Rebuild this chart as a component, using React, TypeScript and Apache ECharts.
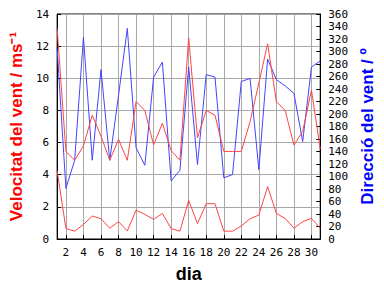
import React, { useEffect, useRef } from "react";
import * as echarts from "echarts";

const days = ["1","2","3","4","5","6","7","8","9","10","11","12","13","14","15","16","17","18","19","20","21","22","23","24","25","26","27","28","29","30","31"];
const maxSpeed = [13.1,5.45,4.9,5.8,7.7,6.4,4.9,6.2,4.9,8.55,8.0,5.85,7.2,5.5,4.9,12.5,6.3,8.0,7.7,5.45,5.45,5.45,7.3,9.7,12.15,8.55,8.0,5.85,6.7,9.27,5.6];
const meanSpeed = [4.24,0.65,0.49,0.9,1.43,1.26,0.67,1.08,0.5,1.79,1.53,1.22,1.59,0.65,0.49,2.4,0.96,2.2,2.2,0.49,0.49,0.81,1.26,1.49,3.26,1.59,1.28,0.67,1.08,1.28,0.67];
const direction = [305,81,126,323,126,271,126,230,337,146,118,259,283,93,110,275,119,263,259,98,103,252,257,111,288,255,245,233,156,275,285];

export default function App() {
  const ref = useRef<HTMLDivElement>(null);
  useEffect(() => {
    if (!ref.current) return;
    const chart = echarts.init(ref.current, null, { renderer: "svg" });
    const tickFont = { fontFamily: "DejaVu Sans Mono", fontSize: 11, color: "#000" };
    const even = (i: number) => (i + 1) % 2 === 0;
    chart.setOption({
      animation: false,
      backgroundColor: "#fff",
      grid: { left: 49, right: 49, top: 14, bottom: 45, show: true, borderColor: "#000", borderWidth: 1, backgroundColor: "transparent" },
      xAxis: {
        type: "category",
        data: days,
        boundaryGap: false,
        name: "dia",
        nameLocation: "middle",
        nameGap: 26,
        nameTextStyle: { fontFamily: "Liberation Sans", fontSize: 18, fontWeight: "bold", color: "#000" },
        axisLine: { lineStyle: { color: "#000", width: 1 } },
        axisTick: { inside: true, length: 4, interval: (i: number) => even(i), lineStyle: { color: "#000" } },
        axisLabel: { ...tickFont, margin: 8, interval: (i: number) => even(i) },
        splitLine: { show: true, interval: (i: number) => even(i) && i !== 30, lineStyle: { color: "#a8a8a8", width: 1 } },
      },
      yAxis: [
        {
          type: "value",
          min: 0,
          max: 14,
          interval: 2,
          name: "Velocitat del vent / ms⁻¹",
          nameLocation: "middle",
          nameRotate: 90,
          nameGap: 22,
          nameTextStyle: { fontFamily: "Liberation Sans", fontSize: 17, fontWeight: "bold", color: "#ff0000" },
          axisLine: { show: true, lineStyle: { color: "#000" } },
          axisTick: { show: true, inside: true, length: 4, lineStyle: { color: "#000" } },
          axisLabel: { ...tickFont, margin: 8 },
          splitLine: { show: true, lineStyle: { color: "#a8a8a8", width: 1 } },
        },
        {
          type: "value",
          min: 0,
          max: 360,
          interval: 20,
          name: "Direcció del vent / º",
          nameLocation: "middle",
          nameRotate: 90,
          nameGap: 32,
          nameTextStyle: { fontFamily: "Liberation Sans", fontSize: 17, fontWeight: "bold", color: "#0000ff" },
          axisLine: { show: true, lineStyle: { color: "#000" } },
          axisTick: { show: true, inside: true, length: 4, lineStyle: { color: "#000" } },
          axisLabel: { ...tickFont, margin: 8 },
          splitLine: { show: false },
        },
      ],
      series: [
        { type: "line", data: direction, yAxisIndex: 1, symbol: "none", lineStyle: { color: "#4444ff", width: 1 }, z: 3 },
        { type: "line", data: maxSpeed, yAxisIndex: 0, symbol: "none", lineStyle: { color: "#ff4444", width: 1 }, z: 4 },
        { type: "line", data: meanSpeed, yAxisIndex: 0, symbol: "none", lineStyle: { color: "#ff4444", width: 1 }, z: 4 },
      ],
    });
    return () => chart.dispose();
  }, []);
  return <div ref={ref} style={{ width: 384, height: 288, position: "absolute", left: 0, top: 0 }} />;
}
